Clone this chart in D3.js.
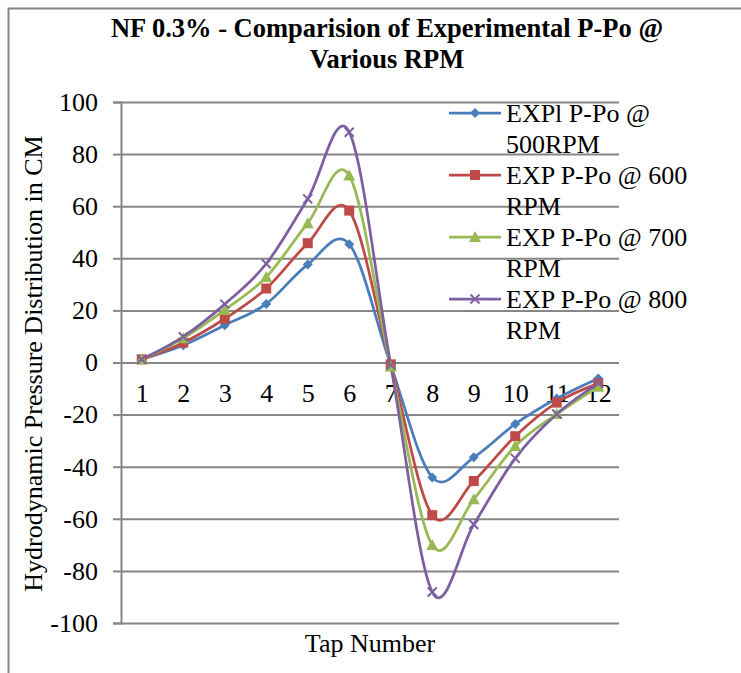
<!DOCTYPE html>
<html>
<head>
<meta charset="utf-8">
<script src="https://cdn.jsdelivr.net/npm/d3@7"></script>
<style>
  html, body { margin: 0; padding: 0; background: #fff; }
  svg { display: block; }
  svg text { font-family: "Liberation Serif", "Times New Roman", serif; }
</style>
</head>
<body>
<svg id="chart" width="741" height="673"></svg>
<script>
// tap numbers along the x axis
const taps = [1, 2, 3, 4, 5, 6, 7, 8, 9, 10, 11, 12];
const yTicks = [-100, -80, -60, -40, -20, 0, 20, 40, 60, 80, 100];

// P-Po readings (cm)
const rpm500 = [1.2, 6.6, 14.3, 22.5, 37.6, 45.4, -1.0, -44.1, -36.4, -23.6, -13.8, -6.1];
const rpm600 = [1.2, 7.6, 16.8, 28.4, 45.8, 58.3, -0.7, -58.6, -45.5, -28.3, -15.4, -8.0];
const rpm700 = [1.2, 9.3, 20.2, 32.8, 53.5, 71.8, -1.5, -70.1, -52.5, -32.1, -19.8, -9.3];
const rpm800 = [1.2, 9.9, 22.4, 37.9, 62.8, 88.4, -1.0, -88.1, -62.2, -36.8, -19.8, -8.0];

const seriesNames = ["EXPl P-Po @ 500RPM", "EXP P-Po @ 600 RPM", "EXP P-Po @ 700 RPM", "EXP P-Po @ 800 RPM"];
const legendLines = [["EXPl P-Po @", "500RPM"], ["EXP P-Po @ 600", "RPM"], ["EXP P-Po @ 700", "RPM"], ["EXP P-Po @ 800", "RPM"]];
const colors = ["#4a7ebb", "#be4b48", "#98b954", "#7d60a0"];
const markers = ["diamond", "square", "triangle", "x"];

const series = [rpm500, rpm600, rpm700, rpm800].map((vals, i) => ({
  name: seriesNames[i], color: colors[i], marker: markers[i],
  values: vals.map((v, j) => ({ tap: taps[j], v }))
}));

const svg = d3.select("#chart");
const grid = "#868686";
const serif = "Liberation Serif";
const plot = { left: 121, right: 619, top: 102, bottom: 623 };

// outer chart border
svg.append("path")
  .attr("d", "M8.5,673 V8.5 H741")
  .attr("fill", "none").attr("stroke", grid).attr("stroke-width", 2);

const x = d3.scalePoint().domain(taps).range([plot.left, plot.right]).padding(0.5);
const y = d3.scaleLinear().domain([-100, 100]).range([plot.bottom, plot.top]);

// gridlines
svg.append("g")
  .attr("transform", `translate(${plot.left},0)`)
  .call(d3.axisRight(y).tickValues(yTicks).tickSize(plot.right - plot.left).tickFormat(""))
  .call(g => g.select(".domain").remove())
  .call(g => g.selectAll("line").attr("stroke", grid).attr("stroke-width", 2));

// y axis
svg.append("g")
  .attr("transform", `translate(${plot.left},0)`)
  .call(d3.axisLeft(y).tickValues(yTicks).tickSize(8).tickPadding(15).tickFormat(d => String(d)))
  .attr("font-family", serif)
  .call(g => g.select(".domain").attr("stroke", grid).attr("stroke-width", 2))
  .call(g => g.selectAll("line").attr("stroke", grid).attr("stroke-width", 2))
  .call(g => g.selectAll("text").attr("font-size", 26).attr("font-family", serif).attr("fill", "#000"));

// x axis labels sit under the zero line
svg.append("g")
  .attr("transform", `translate(0,${y(0)})`)
  .call(d3.axisBottom(x).tickSize(0).tickPadding(21))
  .attr("font-family", serif)
  .call(g => g.select(".domain").remove())
  .call(g => g.selectAll("text").attr("font-size", 26).attr("font-family", serif).attr("fill", "#000"));

// smooth lines
const line = d3.line()
  .x(d => x(d.tap))
  .y(d => y(d.v))
  .curve(d3.curveCardinal.tension(0));

svg.append("g").selectAll("path")
  .data(series)
  .join("path")
  .attr("d", d => line(d.values))
  .attr("fill", "none")
  .attr("stroke", d => d.color)
  .attr("stroke-width", 2.75);

function drawMarker(g, type, color) {
  if (type === "diamond") {
    g.append("path").attr("d", "M0,-5 L5,0 L0,5 L-5,0 Z").attr("fill", color);
  } else if (type === "square") {
    g.append("rect").attr("x", -5).attr("y", -5).attr("width", 10).attr("height", 10).attr("fill", color);
  } else if (type === "triangle") {
    g.append("path").attr("d", "M0,-6 L6,5 L-6,5 Z").attr("fill", color);
  } else {
    g.append("path").attr("d", "M-4.5,-4.5 L4.5,4.5 M-4.5,4.5 L4.5,-4.5")
      .attr("stroke", color).attr("stroke-width", 2).attr("fill", "none");
  }
}

series.forEach(s => {
  s.values.forEach(d => {
    const g = svg.append("g").attr("transform", `translate(${x(d.tap)},${y(d.v)})`);
    drawMarker(g, s.marker, s.color);
  });
});

// legend
const legend = svg.append("g");
series.forEach((s, i) => {
  const cy = 113 + i * 62;
  legend.append("line")
    .attr("x1", 449).attr("x2", 501).attr("y1", cy).attr("y2", cy)
    .attr("stroke", s.color).attr("stroke-width", 2.75);
  drawMarker(legend.append("g").attr("transform", `translate(475,${cy})`), s.marker, s.color);
  const t = legend.append("text")
    .attr("x", 506).attr("y", cy + 8.7)
    .attr("font-family", serif)
    .attr("font-size", 26).attr("fill", "#000");
  legendLines[i].forEach((ln, k) => {
    t.append("tspan").attr("x", 506).attr("dy", k === 0 ? 0 : 31).text(ln);
  });
});

// title
const title = svg.append("text")
  .attr("x", 387).attr("y", 37)
  .attr("text-anchor", "middle")
  .attr("font-family", serif)
  .attr("font-size", 26.5).attr("font-weight", "bold");
title.append("tspan").attr("x", 387).text("NF 0.3% - Comparision of Experimental P-Po @");
title.append("tspan").attr("x", 387).attr("dy", 31).text("Various RPM");

// axis titles
svg.append("text")
  .attr("transform", "translate(42,363.5) rotate(-90)")
  .attr("text-anchor", "middle")
  .attr("font-family", serif)
  .attr("font-size", 26)
  .text("Hydrodynamic Pressure Distribution in CM");

svg.append("text")
  .attr("x", 370).attr("y", 652)
  .attr("text-anchor", "middle")
  .attr("font-family", serif)
  .attr("font-size", 26)
  .text("Tap Number");
</script>
</body>
</html>
